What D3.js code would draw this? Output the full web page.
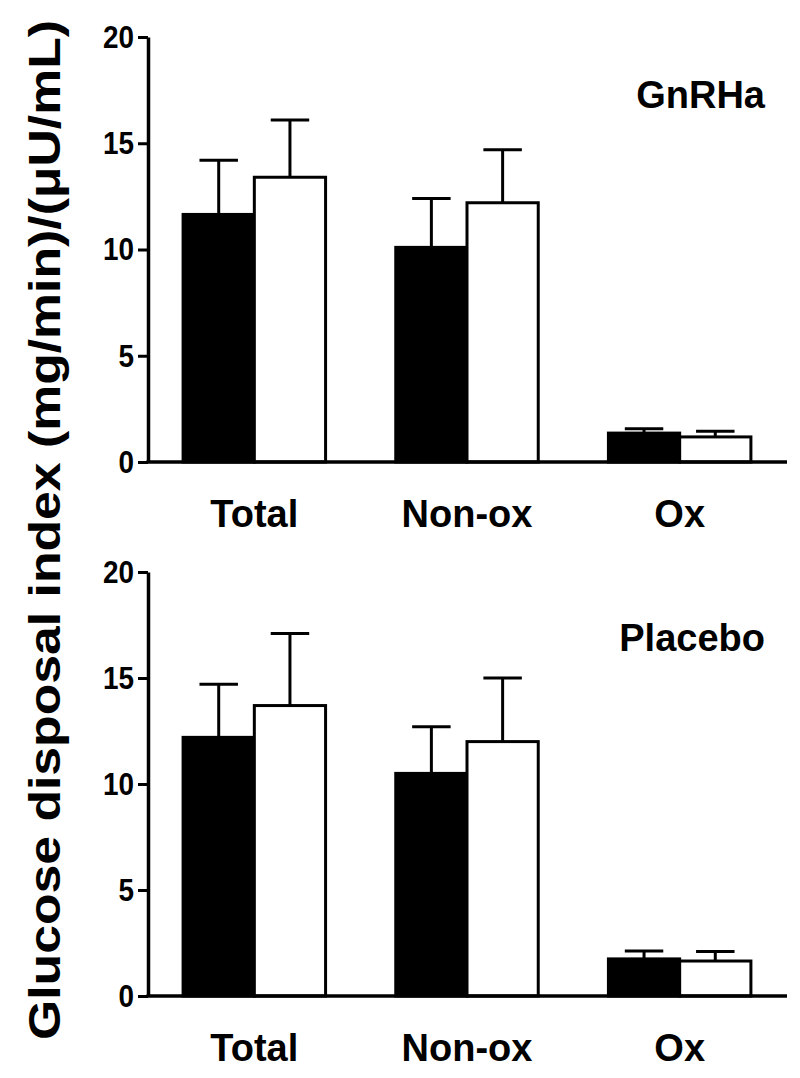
<!DOCTYPE html>
<html><head><meta charset="utf-8">
<script src="https://cdn.jsdelivr.net/npm/d3@7/dist/d3.min.js"></script>
<style>body{margin:0;background:#fff}svg{display:block}</style>
</head><body>
<svg id="c" width="800" height="1078"></svg>
<script>
const categories = ["Total", "Non-ox", "Ox"];
const series = ["black", "white"];
const yTicks = [0, 5, 10, 15, 20];
const panelTitles = ["GnRHa", "Placebo"];
const gnrhaMean = [[11.65, 13.4], [10.1, 12.2], [1.36, 1.18]];
const gnrhaErr  = [[14.2, 16.1], [12.4, 14.7], [1.56, 1.45]];
const placeboMean = [[12.2, 13.7], [10.5, 12.0], [1.75, 1.65]];
const placeboErr  = [[14.7, 17.1], [12.7, 15.0], [2.12, 2.1]];
const yLabel = "Glucose disposal index (mg/min)/(\u03BCU/mL)";

const svg = d3.select("#c");
const FONT = "'Liberation Sans', Arial, Helvetica, sans-serif";
const panels = [
  {title: panelTitles[0], mean: gnrhaMean, err: gnrhaErr, top: 37, bottom: 462, titleY: 108},
  {title: panelTitles[1], mean: placeboMean, err: placeboErr, top: 572, bottom: 996, titleY: 651}
];
const x = d3.scaleBand().domain(categories).range([148, 786]).paddingInner(0.33).paddingOuter(0.165);
const xs = d3.scaleBand().domain(series).range([0, x.bandwidth()]);

panels.forEach(p => {
  const y = d3.scaleLinear().domain([0, 20]).range([p.bottom, p.top]);
  const g = svg.append("g");
  const rows = [];
  categories.forEach((c, i) => series.forEach((s, j) => rows.push({c, s, v: p.mean[i][j], e: p.err[i][j]})));
  const cap = xs.bandwidth() * 0.54;
  rows.forEach(r => {
    const cx = x(r.c) + xs(r.s) + xs.bandwidth() / 2;
    g.append("line").attr("x1", cx).attr("x2", cx).attr("y1", y(r.v)).attr("y2", y(r.e))
      .attr("stroke", "#000").attr("stroke-width", 3);
    g.append("line").attr("x1", cx - cap / 2).attr("x2", cx + cap / 2).attr("y1", y(r.e)).attr("y2", y(r.e))
      .attr("stroke", "#000").attr("stroke-width", 3);
  });
  g.selectAll("rect.bar").data(rows).join("rect").attr("class", "bar")
    .attr("x", d => x(d.c) + xs(d.s))
    .attr("width", xs.bandwidth())
    .attr("y", d => y(d.v))
    .attr("height", d => y(0) - y(d.v))
    .attr("fill", d => d.s === "black" ? "#000" : "#fff")
    .attr("stroke", "#000").attr("stroke-width", 3);

  const ya = g.append("g").attr("transform", "translate(148,0)")
    .call(d3.axisLeft(y).tickValues(yTicks).tickSize(10).tickSizeOuter(0).tickPadding(4));
  ya.select(".domain").attr("stroke-width", 3.5);
  ya.selectAll(".tick line").attr("stroke-width", 3);
  ya.selectAll(".tick text").attr("font-family", FONT).attr("font-weight", "bold")
    .attr("font-size", 32).attr("fill", "#000")
    .attr("textLength", d => String(d).length * 15.5).attr("lengthAdjust", "spacingAndGlyphs");

  const xa = g.append("g").attr("transform", `translate(0,${p.bottom})`)
    .call(d3.axisBottom(x).tickSize(0).tickSizeOuter(0).tickPadding(48));
  xa.select(".domain").attr("stroke-width", 3.5).attr("d", `M146.5,0H787`);
  xa.selectAll(".tick text").attr("font-family", FONT).attr("font-weight", "bold")
    .attr("font-size", 38).attr("fill", "#000").attr("dy", 0)
    .attr("y", 65);

  g.append("text").attr("x", 765).attr("y", p.titleY).attr("text-anchor", "end")
    .attr("font-family", FONT).attr("font-weight", "bold").attr("font-size", 38).text(p.title);
});

svg.append("text").attr("transform", "translate(60,530) rotate(-90)")
  .attr("text-anchor", "middle").attr("font-family", FONT).attr("font-weight", "bold")
  .attr("font-size", 44).attr("textLength", 1020).attr("lengthAdjust", "spacingAndGlyphs")
  .text(yLabel);
</script>
</body></html>
